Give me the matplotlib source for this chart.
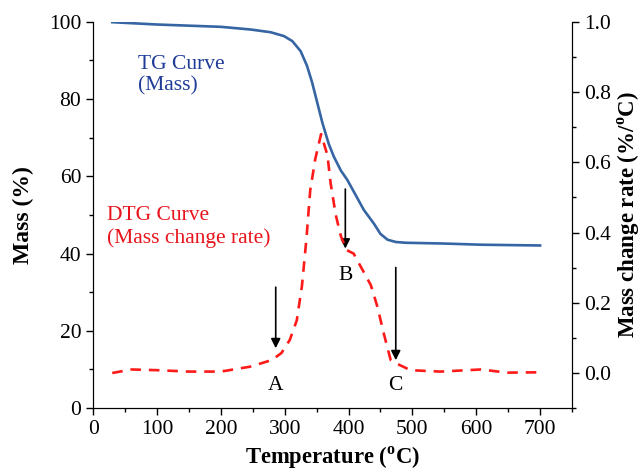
import matplotlib

matplotlib.use('Agg')

import matplotlib.pyplot as plt
from matplotlib.ticker import MultipleLocator

plt.rcParams['font.family'] = 'Liberation Serif'
plt.rcParams['mathtext.fontset'] = 'custom'
plt.rcParams['mathtext.rm'] = 'Liberation Serif'
plt.rcParams['mathtext.bf'] = 'Liberation Serif:bold'

# TG curve (mass, %)
tg_temp = [30, 100, 150, 200, 247, 278, 299, 312, 325, 335, 343, 351, 359, 369,
           377, 388, 398, 410, 424, 440, 450, 461, 474, 490, 550, 607, 700]
tg_mass = [99.9, 99.3, 99.0, 98.7, 98.0, 97.3, 96.3, 95.0, 92.4, 88.6, 84.3, 79.1,
           73.9, 68.4, 65.1, 61.5, 59.1, 55.5, 51.3, 47.7, 45.1, 43.6, 43.0, 42.8,
           42.6, 42.3, 42.1]

# DTG curve (mass change rate, %/oC)
dtg_temp = [30, 60, 100, 150, 200, 246, 280, 295, 308, 319, 327, 334, 340, 348,
            357, 367, 372, 380, 388, 397, 408, 420, 435, 445, 455, 466, 474, 497,
            544, 607, 649, 700]
dtg_rate = [0.0, 0.01, 0.008, 0.004, 0.004, 0.018, 0.037, 0.057, 0.094, 0.15,
            0.247, 0.38, 0.52, 0.61, 0.68, 0.62, 0.54, 0.45, 0.39, 0.35, 0.34,
            0.30, 0.25, 0.19, 0.114, 0.037, 0.028, 0.008, 0.004, 0.01, 0.001, 0.002]

# arrows: label, x, arrow top, arrow tip, label y (left axis units)
marks = ['A', 'B', 'C']
mark_x = [286, 395, 474]
mark_top = [31.3, 56.7, 36.4]
mark_tip = [15.5, 41.3, 12.4]
mark_label_y = [5.9, 34.3, 5.9]

fig = plt.figure(figsize=(6.42, 4.74), dpi=100)
ax = fig.add_axes([0.145, 0.139, 0.746, 0.815])
ax2 = ax.twinx()

blue = '#3565a3'
red = '#ff1a1a'

ax.plot(tg_temp, tg_mass, color=blue, lw=1.9, zorder=3)
ax2.plot(dtg_temp, dtg_rate, color=red, lw=1.9, dashes=(4, 3))

for m, x, top, tip, ly in zip(marks, mark_x, mark_top, mark_tip, mark_label_y):
    ax.annotate('', xy=(x, tip), xytext=(x, top),
                arrowprops=dict(arrowstyle='-|>', color='black', lw=1.2,
                                mutation_scale=14, shrinkA=0, shrinkB=0))
    ax.text(x, ly, m, ha='center', va='center', fontsize=15.5)

ax.text(71, 91.5, 'TG Curve\n(Mass)', color='#1f3c98', fontsize=15.5,
        ha='left', va='top', linespacing=1.2)
ax2.text(22, 0.475, 'DTG Curve\n(Mass change rate)', color='#e8141c', fontsize=15.5,
         ha='left', va='top', linespacing=1.2)

ax.set_xlim(0, 750)
ax.set_ylim(0, 100)
ax2.set_ylim(-0.1, 1.0)

ax.xaxis.set_major_locator(MultipleLocator(100))
ax.xaxis.set_minor_locator(MultipleLocator(50))
ax.yaxis.set_major_locator(MultipleLocator(20))
ax.yaxis.set_minor_locator(MultipleLocator(10))
ax2.yaxis.set_major_locator(MultipleLocator(0.2))
ax2.yaxis.set_minor_locator(MultipleLocator(0.1))
ax2.yaxis.set_major_formatter(plt.FormatStrFormatter('%.1f'))

for a in (ax, ax2):
    a.spines['top'].set_visible(False)
    a.tick_params(which='major', direction='out', length=5, width=1, labelsize=15.5)
    a.tick_params(which='minor', direction='out', length=3, width=1)

ax.set_xlabel(r'Temperature ($^{\bf o}$C)', fontsize=16.3, fontweight='bold', labelpad=4)
ax.set_ylabel('Mass (%)', fontsize=17, fontweight='bold')
ax.yaxis.set_label_coords(-0.146, 0.5)
ax.yaxis.label.set_va('center')
ax2.set_ylabel(r'Mass change rate (%/$^{\bf o}$C)', fontsize=16.5, fontweight='bold')
ax2.yaxis.set_label_coords(1.118, 0.5)
ax2.yaxis.label.set_va('center')

plt.savefig('out.png', dpi=100)
